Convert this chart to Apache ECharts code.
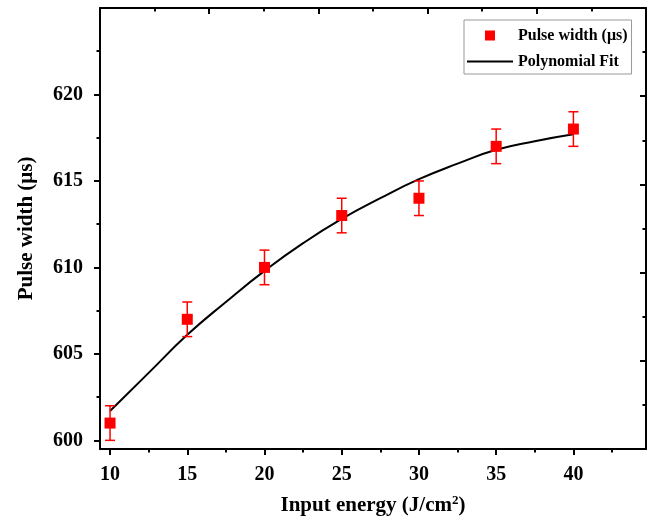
<!DOCTYPE html>
<html>
<head>
<meta charset="utf-8">
<script src="https://cdn.jsdelivr.net/npm/echarts@6/dist/echarts.min.js"></script>
<style>html,body{margin:0;padding:0;background:#fff}#c{width:656px;height:525px}</style>
</head>
<body>
<div id="c"></div>
<script>
// ---- data ----
const energy = [10, 15, 20, 25, 30, 35, 40];
const pulseWidth = [601, 607, 610, 613, 614, 617, 618];
const errorBar = [1, 1, 1, 1, 1, 1, 1];
const fitX = [10, 12.5, 15, 17.5, 20, 22.5, 25, 27.5, 30, 32.5, 35, 37.5, 40];
const fitY = [601.7, 603.9, 606.1, 608.0, 609.8, 611.4, 612.8, 614.0, 615.1, 616.0, 616.8, 617.3, 617.7];
const xMajorTicks = [10, 15, 20, 25, 30, 35, 40];
const xMinorTicks = [12.5, 17.5, 22.5, 27.5, 32.5, 37.5, 42.5];
const yMajorTicks = [600, 605, 610, 615, 620];
const yMinorTicks = [602.5, 607.5, 612.5, 617.5, 622.5];
const frameMajor = [2, 4, 6, 8];
const frameMinor = [1, 3, 5, 7, 9];
const seriesNames = ['Pulse width (\u03bcs)', 'Polynomial Fit'];
const xTitle = 'Input energy (J/cm{sup|2})';
const yTitle = 'Pulse width (\u03bcs)';

const FONT = '"Liberation Serif", "Times New Roman", serif';
const chart = echarts.init(document.getElementById('c'), null, {renderer: 'canvas'});

const lineBlack = {show: true, onZero: false, lineStyle: {color: '#000', width: 2}};
function baseX(extra) {
  return Object.assign({
    type: 'value', min: 9.35, max: 44.7, splitLine: {show: false},
    axisLine: {show: false, onZero: false}, axisLabel: {show: false}, axisTick: {show: false}
  }, extra);
}
function baseY(extra) {
  return Object.assign({
    type: 'value', min: 599.5, max: 625, splitLine: {show: false},
    axisLine: {show: false, onZero: false}, axisLabel: {show: false}, axisTick: {show: false}
  }, extra);
}

const option = {
  animation: false,
  backgroundColor: '#fff',
  grid: {left: 100, right: 10, top: 8, bottom: 76, containLabel: false, outerBoundsMode: 'none'},
  legend: {
    orient: 'vertical', left: 464, top: 20,
    itemWidth: 46, itemHeight: 10, itemGap: 9,
    padding: [7, 4, 4, 3],
    borderColor: '#999', borderWidth: 1,
    textStyle: {fontFamily: FONT, fontWeight: 'bold', fontSize: 16, color: '#000', lineHeight: 17},
    data: [
      {name: seriesNames[0], icon: 'path://M0,0L10,0L10,10L0,10Z'},
      {name: seriesNames[1], icon: 'path://M0,0L46,0L46,2L0,2Z'}
    ]
  },
  xAxis: [
    baseX({
      position: 'bottom', axisLine: lineBlack,
      axisTick: {show: true, inside: false, length: 6, lineStyle: {color: '#000', width: 2}, customValues: xMajorTicks},
      axisLabel: {show: true, margin: 16, fontFamily: FONT, fontWeight: 'bold', fontSize: 20, color: '#000', customValues: xMajorTicks},
      name: xTitle, nameLocation: 'middle', nameGap: 42,
      nameTextStyle: {
        fontFamily: FONT, fontWeight: 'bold', fontSize: 21, color: '#000', lineHeight: 30,
        rich: {sup: {fontFamily: FONT, fontWeight: 'bold', fontSize: 13, color: '#000', verticalAlign: 'top', padding: [3, 0, 0, 0]}}
      }
    }),
    baseX({
      position: 'bottom',
      axisTick: {show: true, inside: false, length: 3.5, lineStyle: {color: '#000', width: 2}, customValues: xMinorTicks}
    }),
    {
      type: 'value', min: 0, max: 10, position: 'top', splitLine: {show: false},
      axisLine: lineBlack, axisLabel: {show: false},
      axisTick: {show: true, inside: true, length: 6, lineStyle: {color: '#000', width: 2}, customValues: frameMajor}
    },
    {
      type: 'value', min: 0, max: 10, position: 'top', splitLine: {show: false},
      axisLine: {show: false, onZero: false}, axisLabel: {show: false},
      axisTick: {show: true, inside: true, length: 3.5, lineStyle: {color: '#000', width: 2}, customValues: frameMinor}
    }
  ],
  yAxis: [
    baseY({
      position: 'left', axisLine: lineBlack,
      axisTick: {show: true, inside: false, length: 6, lineStyle: {color: '#000', width: 2}, customValues: yMajorTicks},
      axisLabel: {show: true, margin: 17, fontFamily: FONT, fontWeight: 'bold', fontSize: 20, color: '#000', customValues: yMajorTicks},
      name: yTitle, nameLocation: 'middle', nameGap: 63, nameRotate: 90,
      nameTextStyle: {fontFamily: FONT, fontWeight: 'bold', fontSize: 21, color: '#000'}
    }),
    baseY({
      position: 'left',
      axisTick: {show: true, inside: false, length: 3.5, lineStyle: {color: '#000', width: 2}, customValues: yMinorTicks}
    }),
    {
      type: 'value', min: 0, max: 10, position: 'right', splitLine: {show: false},
      axisLine: lineBlack, axisLabel: {show: false},
      axisTick: {show: true, inside: true, length: 6, lineStyle: {color: '#000', width: 2}, customValues: frameMajor}
    },
    {
      type: 'value', min: 0, max: 10, position: 'right', splitLine: {show: false},
      axisLine: {show: false, onZero: false}, axisLabel: {show: false},
      axisTick: {show: true, inside: true, length: 3.5, lineStyle: {color: '#000', width: 2}, customValues: frameMinor}
    }
  ],
  series: [
    {
      name: seriesNames[1], type: 'line', xAxisIndex: 0, yAxisIndex: 0,
      data: fitX.map((x, i) => [x, fitY[i]]),
      smooth: true, symbol: 'none', showSymbol: false,
      lineStyle: {color: '#000', width: 2}, itemStyle: {color: '#000'}, z: 2
    },
    {
      name: seriesNames[0] + '_err', type: 'custom', xAxisIndex: 0, yAxisIndex: 0,
      data: energy.map((x, i) => [x, pulseWidth[i] - errorBar[i], pulseWidth[i] + errorBar[i]]),
      renderItem: function (params, api) {
        const lo = api.coord([api.value(0), api.value(1)]);
        const hi = api.coord([api.value(0), api.value(2)]);
        const hw = 5;
        const st = {stroke: '#ff0000', lineWidth: 1.5, fill: null};
        return {
          type: 'group', children: [
            {type: 'line', shape: {x1: lo[0], y1: lo[1], x2: hi[0], y2: hi[1]}, style: st},
            {type: 'line', shape: {x1: lo[0] - hw, y1: lo[1], x2: lo[0] + hw, y2: lo[1]}, style: st},
            {type: 'line', shape: {x1: hi[0] - hw, y1: hi[1], x2: hi[0] + hw, y2: hi[1]}, style: st}
          ]
        };
      },
      z: 3, silent: true
    },
    {
      name: seriesNames[0], type: 'scatter', xAxisIndex: 0, yAxisIndex: 0,
      data: energy.map((x, i) => [x, pulseWidth[i]]),
      symbol: 'rect', symbolSize: 11,
      itemStyle: {color: '#ff0000', opacity: 1}, z: 4
    }
  ]
};
chart.setOption(option);
</script>
</body>
</html>
